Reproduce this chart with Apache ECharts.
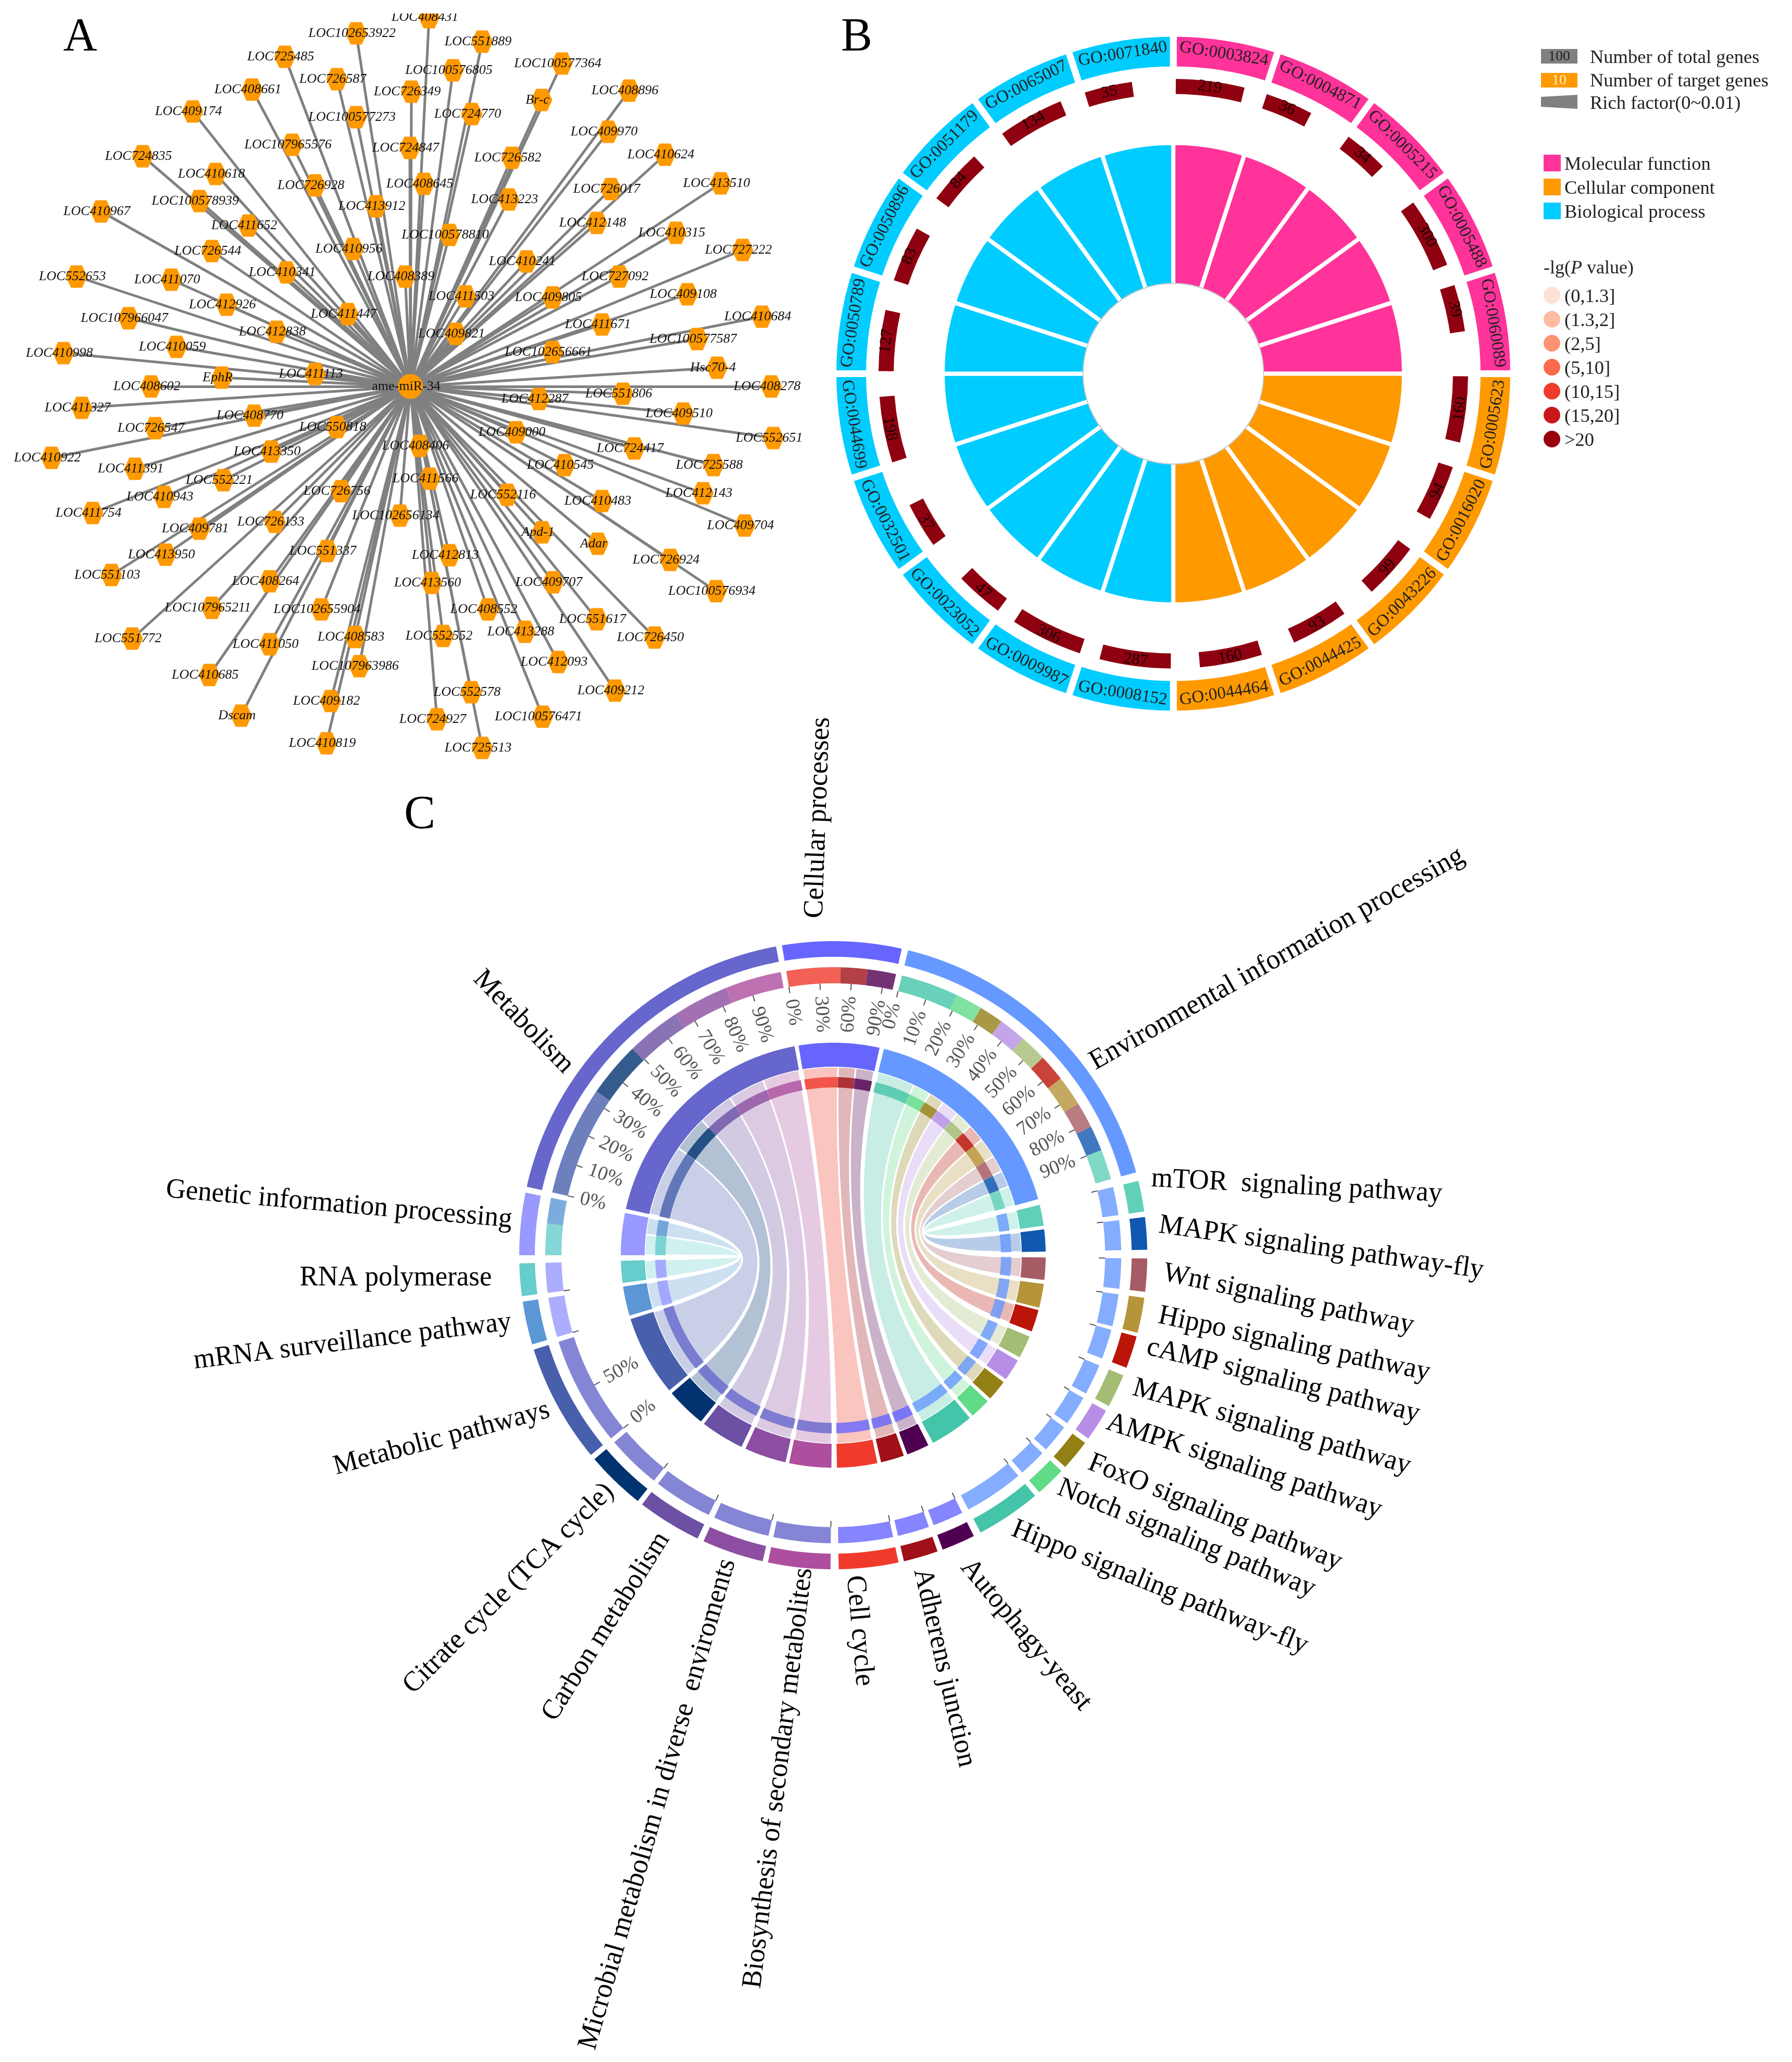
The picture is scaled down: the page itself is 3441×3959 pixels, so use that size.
<!DOCTYPE html>
<html><head><meta charset="utf-8">
<style>html,body{margin:0;padding:0;background:#fff}#c{width:3441px;height:3959px}</style>
<script src="https://cdn.jsdelivr.net/npm/echarts@6/dist/echarts.min.js"></script>
</head><body><div id="c"></div>
<script>
/* ---------- Panel A: gene network ---------- */
const hubName = 'ame-miR-34';
const hubXY = [788, 742];
const geneNames = ['LOC102653922','LOC725485','LOC726587','LOC408661','LOC409174','LOC100577273','LOC107965576','LOC724835','LOC410618','LOC726928','LOC100578939','LOC413912','LOC410967','LOC411652','LOC726544','LOC410956','LOC410341','LOC552653','LOC411070','LOC412926','LOC411447','LOC107966047','LOC412838','LOC410059','LOC410998','LOC411113','EphR','LOC408602',
'LOC408431','LOC551889','LOC100576805','LOC100577364','LOC726349','LOC408896','Br-c','LOC724770','LOC409970','LOC724847','LOC410624','LOC726582','LOC408645','LOC413510','LOC726017','LOC413223','LOC412148','LOC410315','LOC100578810','LOC727222','LOC410241','LOC408389','LOC727092','LOC409108','LOC411503','LOC409805','LOC410684','LOC411671','LOC409821','LOC100577587','LOC102656661','Hsc70-4',
'LOC411327','LOC408770','LOC726547','LOC550818','LOC413350','LOC410922','LOC411391','LOC552221','LOC726756','LOC410943','LOC411754','LOC726133','LOC409781','LOC551337','LOC413950','LOC551103','LOC408264','LOC107965211','LOC102655904','LOC408583','LOC551772','LOC411050','LOC107963986','LOC410685','LOC409182','Dscam','LOC410819',
'LOC408278','LOC551806','LOC412287','LOC409510','LOC409000','LOC552651','LOC408406','LOC724417','LOC410545','LOC725588','LOC411566','LOC412143','LOC552116','LOC410483','LOC102656134','LOC409704','Apd-1','Adar','LOC412813','LOC726924','LOC413560','LOC409707','LOC100576934','LOC408552','LOC551617','LOC413288','LOC726450','LOC552552','LOC412093','LOC409212','LOC552578','LOC724927','LOC100576471','LOC725513'];
const geneX = [684,547,647,484,370,684,561,274,414,605,383,722,194,477,407,678,550,147,329,435,668,247,531,339,122,605,426,290,
824,926,870,1079,790,1208,1040,906,1168,787,1277,983,814,1384,1173,977,1146,1298,863,1426,1011,778,1189,1320,894,1061,1463,1156,875,1339,1061,1377,
157,488,298,647,521,99,259,429,655,315,178,528,383,628,318,214,518,407,617,682,254,518,690,402,635,463,627,
1481,1196,1035,1312,991,1485,806,1218,1084,1370,825,1350,974,1156,768,1430,1041,1148,863,1287,829,1062,1375,937,1146,1008,1257,851,1072,1181,905,839,1042,926];
const geneY = [64,109,152,172,214,225,278,300,334,356,386,396,406,433,482,478,523,531,537,585,603,611,637,666,678,718,725,742,
33,80,135,122,176,174,192,219,253,284,297,303,353,352,363,383,428,447,451,480,502,531,531,565,569,571,608,623,641,651,676,706,
783,798,822,820,867,879,900,922,943,954,985,1002,1015,1058,1065,1104,1116,1167,1170,1223,1226,1237,1279,1296,1346,1374,1427,
742,756,766,794,830,841,856,861,893,893,919,947,950,962,990,1009,1022,1044,1066,1075,1119,1118,1135,1170,1189,1213,1224,1221,1271,1326,1329,1381,1376,1436];

/* ---------- Panel B: GO circle ---------- */
const goIds = ['GO:0003824','GO:0004871','GO:0005215','GO:0005488','GO:0060089','GO:0005623','GO:0016020','GO:0043226','GO:0044425','GO:0044464','GO:0008152','GO:0009987','GO:0023052','GO:0032501','GO:0044699','GO:0050789','GO:0050896','GO:0051179','GO:0065007','GO:0071840'];
const goClass = [0,0,0,0,0,1,1,1,1,1,2,2,2,2,2,2,2,2,2,2];
const goClassNames = ['Molecular function','Cellular component','Biological process'];
const goClassColors = ['#FF3399','#FF9900','#00CCFF'];
const targetGenes = [219,36,34,300,39,160,94,99,93,160,287,306,47,37,198,127,83,84,134,35];
const richArcDeg = [13.5,9.4,8.8,13.8,9.2,13,11,11.2,11.3,12.3,14,14.2,9.5,9,13,12,11,11,13,9.4];
const pLegendLabels = ['(0,1.3]','(1.3,2]','(2,5]','(5,10]','(10,15]','(15,20]','>20'];
const pLegendColors = ['#FDE0D6','#FDBBA3','#FC9272','#FB6A4A','#EF3B2C','#CB181D','#99000D'];

/* ---------- Panel C: KEGG chord ---------- */
const pathwayNames = ['Cellular processes','Environmental information processing','mTOR  signaling pathway','MAPK signaling pathway-fly','Wnt signaling pathway','Hippo signaling pathway','cAMP signaling pathway','MAPK signaling pathway','AMPK signaling pathway','FoxO signaling pathway','Notch signaling pathway','Hippo signaling pathway-fly','Autophagy-yeast','Adherens junction','Cell cycle','Biosynthesis of secondary metabolites','Microbial metabolism in diverse  enviroments','Carbon metabolism','Citrate cycle (TCA cycle)','Metabolic pathways','mRNA surveillance pathway','RNA polymerase','Genetic information processing','Metabolism'];
const pathwayStart = [-9.4,13.8,76.3,83,90.6,97.8,105,112.5,119.7,126.7,133.4,140,153.4,160.6,168,180.5,193,205.6,218.5,230.5,253.5,262.5,270,282.6];
const pathwayEnd   = [12.6,74.7,82,89,96.7,104.3,111,118.7,125.7,132.4,139,152,159.6,167,179,192,204.4,217.5,229.5,252.5,261.5,268.5,281.5,349.5];
const pathwayColors = ['#6666FF','#6699FF','#60D0B8','#1058B0','#A65C64','#B5943A','#BB1408','#A5BC74','#B78EE5','#938015','#60DB88','#44C4A8','#500050','#A01018','#F03A2C','#AD4E9E','#8C4EA0','#6B50A3','#003370','#4860AC','#5B97D5','#66CCCC','#9999FF','#6666CC'];
const linkGroup = ['Metabolism','Metabolism','Metabolism','Metabolism','Metabolism','Cellular processes','Cellular processes','Cellular processes','Environmental information processing','Environmental information processing','Environmental information processing','Environmental information processing','Environmental information processing','Environmental information processing','Environmental information processing','Environmental information processing','Environmental information processing','Environmental information processing','Genetic information processing','Genetic information processing'];
const linkTarget = ['Metabolic pathways','Citrate cycle (TCA cycle)','Carbon metabolism','Microbial metabolism in diverse  enviroments','Biosynthesis of secondary metabolites','Cell cycle','Adherens junction','Autophagy-yeast','Hippo signaling pathway-fly','Notch signaling pathway','FoxO signaling pathway','AMPK signaling pathway','MAPK signaling pathway','cAMP signaling pathway','Hippo signaling pathway','Wnt signaling pathway','MAPK signaling pathway-fly','mTOR  signaling pathway','RNA polymerase','mRNA surveillance pathway'];
const linkFromPct = [0,33,49.6,66,83,0,49.5,74,0,19,28,36,45,54,63,73,81.6,90,0,55];
const linkToPct   = [33,49.6,66,83,100,49.5,74,100,19,28,36,45,54,63,73,81.6,90,100,55,100];
const tickGroups = ['Metabolism','Cellular processes','Environmental information processing','Metabolic pathways'];
const tickPercents = [[0,10,20,30,40,50,60,70,80,90],[0,30,60,90],[0,10,20,30,40,50,60,70,80,90],[0,50]];

/* label placement of panel C: centre x, centre y, rotation (deg) */
const pathwayLabelLayout = [[1571,1570,88],[2452,1841,29.5],[2490,2278,-3],[2537,2396,-8],[2474,2495,-12],[2485,2581,-12],[2464,2651,-14],[2442,2740,-16],[2389,2815,-18],[2333,2904,-22],[2278,2954,-22],[2227,3048,-22],[1970,3139,-50],[1813,3202,-77],[1650,3131,-85],[1495,3414,83],[1263,3464,74],[1164,3123,58],[977,3050,45],[848,2762,15],[677,2576,7],[760,2454,0],[651,2313,-5],[1005,1962,-46]];

const SERIF = 'Liberation Serif';
const idx = n => pathwayNames.indexOf(n);
const DEG = Math.PI/180;

/* radii of panel C rings (outer copy and inner copy) */
const R = {o1:[573,603], o2:[522,553], i1:[362,408], i2:[322,342]};

/* ---- helpers for the polar custom series ---- */
function arcPts(api, r, a0, a1){
  const n = Math.max(2, Math.ceil(Math.abs(a1-a0)/0.4));
  const pts = [];
  for(let i=0;i<=n;i++){ const a=a0+(a1-a0)*i/n; pts.push(api.coord([r,(a+720)%360===0&&a>0?360:(a+720)%360])); }
  return pts;
}
function band(api, r0, r1, a0, a1, fill, opacity){
  const pts = arcPts(api,r1,a0,a1).concat(arcPts(api,r0,a1,a0));
  return {type:'polygon', shape:{points:pts}, style:{fill:fill, opacity:opacity==null?1:opacity}};
}
function bez(api, p0, p1){
  const c = api.coord([0,0]), out=[];
  for(let i=1;i<24;i++){ const t=i/24,u=1-t; out.push([u*u*p0[0]+2*u*t*c[0]+t*t*p1[0], u*u*p0[1]+2*u*t*c[1]+t*t*p1[1]]); }
  return out;
}
function hexToRgba(h,a){ const n=parseInt(h.slice(1),16); return `rgba(${n>>16},${(n>>8)&255},${n&255},${a})`; }

/* link arc on the group side, clockwise angles */
function linkArc(i){
  const g = idx(linkGroup[i]); const s=pathwayStart[g], e=pathwayEnd[g];
  return [s+(e-s)*linkFromPct[i]/100, s+(e-s)*linkToPct[i]/100];
}

/* ---- ring rows ---- */
const ringRows = [];
pathwayNames.forEach((n,i)=>{
  ringRows.push({a0:pathwayStart[i],a1:pathwayEnd[i],c:pathwayColors[i],op:1,rings:[R.o1,R.i1]});
});
linkGroup.forEach((g,i)=>{
  const arc = linkArc(i), t = idx(linkTarget[i]), gi = idx(g);
  ringRows.push({a0:arc[0],a1:arc[1],c:pathwayColors[t],op:0.8,rings:[R.o2,R.i2]});
  ringRows.push({a0:pathwayStart[t],a1:pathwayEnd[t],c:pathwayColors[gi],op:0.8,rings:[R.o2,R.i2]});
});
/* ---- tick rows ---- */
const tickRows = [];
tickGroups.forEach((g,k)=>{
  const i = idx(g), s=pathwayStart[i], e=pathwayEnd[i];
  tickPercents[k].forEach(p=>{ tickRows.push({a:s+(e-s)*p/100, text:p+'%'}); });
});
linkTarget.forEach(t=>{
  if(t!=='Metabolic pathways') tickRows.push({a:pathwayStart[idx(t)], text:''});
});

const graphic = [];
/* panel letters */
[['A',154,73],['B',1645,73],['C',806,1566]].forEach(l=>{
  graphic.push({type:'text',x:l[1],y:l[2],z:50,style:{text:l[0],font:`90px "${SERIF}"`,fill:'#000',align:'center',verticalAlign:'middle'}});
});
/* cut-off at the top of panel A */
graphic.push({type:'rect',z:50,shape:{x:700,y:0,width:260,height:26},style:{fill:'#fff'}});
/* panel B legends */
const T = (x,y,text,size,fill)=>({type:'text',x,y:y+3,z:50,style:{text,font:`${size}px "${SERIF}"`,fill:fill||'#222',align:'left',verticalAlign:'middle'}});
graphic.push({type:'rect',z:50,shape:{x:2959,y:94,width:70,height:28},style:{fill:'#808080'}});
graphic.push({type:'rect',z:50,shape:{x:2959,y:140,width:70,height:28},style:{fill:'#FF9900'}});
graphic.push({type:'polygon',z:50,shape:{points:[[2959,186],[3029,182],[3029,209],[2959,205]]},style:{fill:'#808080'}});
graphic.push({type:'text',x:2994,y:109,z:51,style:{text:'100',font:`28px "${SERIF}"`,fill:'#222',align:'center',verticalAlign:'middle'}});
graphic.push({type:'text',x:2994,y:155,z:51,style:{text:'10',font:`28px "${SERIF}"`,fill:'#FFF3D0',align:'center',verticalAlign:'middle'}});
graphic.push(T(3053,108,'Number of total genes',36.5));
graphic.push(T(3053,153,'Number of target genes',36.5));
graphic.push(T(3053,196,'Rich factor(0~0.01)',36.5));
goClassNames.forEach((n,i)=>{
  const y=[297,343,389][i];
  graphic.push({type:'rect',z:50,shape:{x:2964,y,width:33,height:32},style:{fill:goClassColors[i]}});
  graphic.push(T(3004,y+16,n,36.5));
});
graphic.push({type:'text',x:2964,y:516,z:50,style:{text:'-lg({i|P} value)',font:`36px "${SERIF}"`,fill:'#222',align:'left',verticalAlign:'middle',rich:{i:{fontStyle:'italic',fontSize:36,fontFamily:SERIF,fill:'#222'}}}});
pLegendLabels.forEach((n,i)=>{
  const y=567+46*i;
  graphic.push({type:'circle',z:50,shape:{cx:2980,cy:y,r:16},style:{fill:pLegendColors[i]}});
  graphic.push(T(3004,y,n,36.5));
});
/* panel C pathway labels */
pathwayNames.forEach((n,i)=>{
  const l=pathwayLabelLayout[i];
  graphic.push({type:'text',x:l[0],y:l[1],rotation:l[2]*DEG,scaleX:0.98,z:50,style:{text:n,font:`54px "${SERIF}"`,fill:'#000',align:'center',verticalAlign:'middle'}});
});

/* ---- pies of panel B ---- */
const baseDonut = {type:'pie',center:[2253,717.5],startAngle:90,clockwise:true,silent:true,avoidLabelOverlap:false,
  emphasis:{disabled:true},labelLine:{show:false},animation:false};
const richData = [];
richArcDeg.forEach((d,i)=>{
  richData.push({value:0.5,name:'',itemStyle:{color:'rgba(0,0,0,0)'},label:{show:false}});
  richData.push({value:d,name:String(targetGenes[i]),itemStyle:{color:'#8F0010'},
    label:{show:true,position:'inside',rotate:'tangential',formatter:'{b}',fontFamily:SERIF,fontSize:31,color:'#1a0000'}});
  richData.push({value:17.5-d,name:'',itemStyle:{color:'rgba(0,0,0,0)'},label:{show:false}});
});

const option = {
  animation:false,
  backgroundColor:'#fff',
  grid:{left:0,right:0,top:0,bottom:0,show:false},
  xAxis:{type:'value',min:0,max:3441,show:false},
  yAxis:{type:'value',min:0,max:3959,inverse:true,show:false},
  polar:{center:[1600,2410],radius:620},
  angleAxis:{type:'value',min:0,max:360,startAngle:90,clockwise:true,show:false},
  radiusAxis:{type:'value',min:0,max:620,show:false},
  graphic:graphic,
  series:[
    {type:'graph',coordinateSystem:'cartesian2d',layout:'none',silent:true,animation:false,
     emphasis:{disabled:true},
     symbol:'path://M0 50 L24 0 L76 0 L100 50 L76 100 L24 100 Z',symbolSize:[41,43],
     itemStyle:{color:'#FF9900'},
     lineStyle:{color:'#808080',width:5,opacity:1,curveness:0},
     label:{show:true,position:'inside',padding:[0,16,0,0],fontFamily:SERIF,fontStyle:'italic',fontSize:26,color:'#111'},
     labelLayout:{hideOverlap:false},
     data:[{name:hubName,value:hubXY,symbol:'circle',symbolSize:48,label:{fontStyle:'normal'}}]
       .concat(geneNames.map((n,i)=>({name:n,value:[geneX[i],geneY[i]]}))),
     links:geneNames.map(n=>({source:hubName,target:n}))
    },
    Object.assign({},baseDonut,{radius:[169,443],z:3,label:{show:false},
      data:goIds.map((n,i)=>({value:1,name:n,itemStyle:{color:goClassColors[goClass[i]],borderColor:'#fff',borderWidth:8}}))}),
    Object.assign({},baseDonut,{radius:[172.5,174.5],z:4,label:{show:false},
      data:[{value:1,name:'hole',itemStyle:{color:'#c9c9c9'}}]}),
    Object.assign({},baseDonut,{radius:[537,566],z:3,data:richData}),
    Object.assign({},baseDonut,{radius:[583.5,653.5],z:3,
      label:{show:true,position:'inside',rotate:'tangential',formatter:'{b}',fontFamily:SERIF,fontSize:33,color:'#222'},
      data:goIds.map((n,i)=>({value:1,name:n,itemStyle:{color:goClassColors[goClass[i]],borderColor:'#fff',borderWidth:13}}))}),
    /* chords */
    {type:'custom',coordinateSystem:'polar',silent:true,z:2,animation:false,
     data:linkGroup.map((g,i)=>[i,0]),
     renderItem:function(p,api){
       const i=p.dataIndex, arc=linkArc(i), t=idx(linkTarget[i]);
       const r=R.i1[0];
       const A=arcPts(api,r,arc[0],arc[1]), B=arcPts(api,r,pathwayStart[t],pathwayEnd[t]);
       const pts=A.concat(bez(api,A[A.length-1],B[0]),B,bez(api,B[B.length-1],A[0]));
       return {type:'polygon',shape:{points:pts},style:{fill:hexToRgba(pathwayColors[t],0.3),stroke:'#fff',lineWidth:3}};
     }},
    /* rings */
    {type:'custom',coordinateSystem:'polar',silent:true,z:3,animation:false,
     data:ringRows.map((g,i)=>[i,0]),
     renderItem:function(p,api){
       const o=ringRows[p.dataIndex];
       return {type:'group',children:o.rings.map(q=>band(api,q[0],q[1],o.a0,o.a1,o.c,o.op))};
     }},
    /* percentage ticks */
    {type:'custom',coordinateSystem:'polar',silent:true,z:4,animation:false,
     data:tickRows.map((g,i)=>[i,0]),
     renderItem:function(p,api){
       const o=tickRows[p.dataIndex], a=(o.a+720)%360, sa=a>180?a-360:a;
       const p1=api.coord([R.o2[0],a]), p2=api.coord([R.o2[0]-12,a]);
       const kids=[{type:'line',shape:{x1:p1[0],y1:p1[1],x2:p2[0],y2:p2[1]},style:{stroke:'#555',lineWidth:2}}];
       if(o.text){
         const q=api.coord([R.o2[0]-24,a]);
         const left = sa<0;
         const rot = left ? -(90+sa) : 90-sa;
         kids.push({type:'text',x:q[0],y:q[1],rotation:rot*DEG,style:{text:o.text,font:`38px "${SERIF}"`,fill:'#555',align:left?'left':'right',verticalAlign:'middle'}});
       }
       return {type:'group',children:kids};
     }}
  ]
};
const chart = echarts.init(document.getElementById('c'),null,{renderer:'canvas',width:3441,height:3959});
chart.setOption(option);
</script></body></html>
